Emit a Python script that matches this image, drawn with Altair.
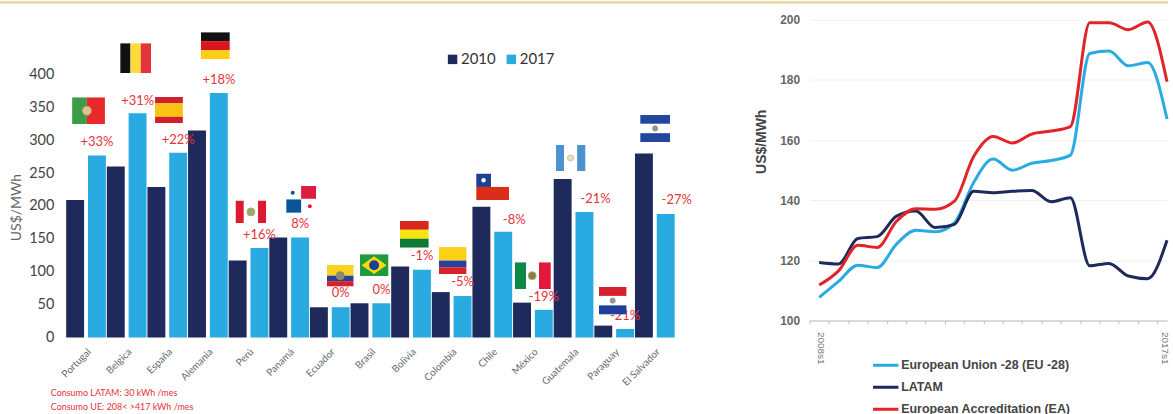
import base64
import altair as alt
import pandas as pd

# Electricity prices by country, 2010 vs 2017
countries = ["Portugal", "Belgica", "España", "Alemania", "Perú", "Panamá", "Ecuador", "Brasil",
             "Bolivia", "Colombia", "Chile", "México", "Guatemala", "Paraguay", "El Salvador"]
price_2010 = [209, 260, 229, 315, 117, 152, 46, 52, 108, 69, 199, 53, 241, 18, 280]
price_2017 = [277, 341, 281, 372, 136, 152, 46, 52, 103, 63, 161, 42, 191, 13, 188]
change_labels = ["+33%", "+31%", "+22%", "+18%", "+16%", "8%", "0%", "0%",
                 "-1%", "-5%", "-8%", "-19%", "-21%", "-21%", "-27%"]
label_heights = [297, 360, 300, 392, 156, 172, 67, 72, 124, 84, 179, 62, 211, 33, 209]
flag_heights = [345, 425, 346, 444, 191, 210, 94, 110, 157, 117, 229, 94, 273, 56, 318]
notes = ["Consumo LATAM: 30 kWh /mes", "Consumo UE: 208< >417 kWh /mes"]

# Semester price series
semesters = [f"{y}s{s}" for y in range(2008, 2018) for s in (1, 2)][:19]
eu28 = [107.7, 113, 118.4, 117.6, 125.4, 130, 129.5, 132.5, 146, 153.7,
        150, 152.3, 153.2, 155, 188.8, 189.6, 184.7, 185.8, 167]
latam = [119.3, 118.8, 127.3, 127.9, 134.7, 136.4, 130.9, 132, 143, 142.5,
         143, 143.2, 139.5, 140.8, 118.2, 119, 114.8, 113.9, 126.7]
ea = [111.8, 116.5, 125, 124.3, 133, 137.2, 137, 139.7, 154.6, 161.2,
      159, 162, 163, 164.5, 199, 199, 196.7, 199.3, 179.4]
series_names = ["European Union -28 (EU -28)", "LATAM", "European Accreditation (EA)"]

NAVY = "#1f2a5c"
SKY = "#29abe2"
RED = "#e6323c"


def stripes_h(w, h, bands):
    """Horizontal stripes: bands is a list of (fraction, colour)."""
    out, y = "", 0
    for frac, col in bands:
        out += f'<rect x="0" y="{y}" width="{w}" height="{frac * h}" fill="{col}"/>'
        y += frac * h
    return out


def stripes_v(w, h, bands):
    """Vertical stripes: bands is a list of (fraction, colour)."""
    out, x = "", 0
    for frac, col in bands:
        out += f'<rect x="{x}" y="0" width="{frac * w}" height="{h}" fill="{col}"/>'
        x += frac * w
    return out


def seal(cx, cy, r, col, ring="#b9a66a"):
    return f'<circle cx="{cx}" cy="{cy}" r="{r}" fill="{col}" stroke="{ring}" stroke-width="1"/>'


def flag_svg(name, w, h):
    cx, cy = w / 2, h / 2
    body = {
        "Portugal": stripes_v(w, h, [(0.45, "#3b9b48"), (0.55, "#e8282c")]) + seal(w * 0.45, cy, 4.5, "#d8c49a"),
        "Belgica": stripes_v(w, h, [(1 / 3, "#111111"), (1 / 3, "#fbdc3c"), (1 / 3, "#e5333b")]),
        "España": stripes_h(w, h, [(0.25, "#cf2129"), (0.5, "#f8c312"), (0.25, "#cf2129")]),
        "Alemania": stripes_h(w, h, [(1 / 3, "#111111"), (1 / 3, "#d8161c"), (1 / 3, "#fdcf14")]),
        "Perú": stripes_v(w, h, [(0.27, "#dc1c2e"), (0.46, "#ffffff"), (0.27, "#dc1c2e")]) + seal(cx, cy, 4, "#8fae6a"),
        "Panamá": (f'<rect x="{cx}" y="0" width="{cx}" height="{cy * 0.95}" fill="#dc1c40"/>'
                   f'<rect x="0" y="{cy}" width="{cx}" height="{cy}" fill="#0a5499"/>'
                   f'<circle cx="{w * 0.22}" cy="{h * 0.25}" r="2" fill="#0a5499"/>'
                   f'<circle cx="{w * 0.79}" cy="{h * 0.75}" r="2" fill="#dc1c40"/>'),
        "Ecuador": stripes_h(w, h, [(0.5, "#f8d21c"), (0.25, "#26419a"), (0.25, "#d8202c")]) + seal(cx, cy, 4, "#8a8a70", "#8a8a70"),
        "Brasil": (f'<rect width="{w}" height="{h}" fill="#1f9a3c"/>'
                   f'<polygon points="2,{cy} {cx},2 {w - 2},{cy} {cx},{h - 2}" fill="#f6d90f"/>'
                   f'<circle cx="{cx}" cy="{cy}" r="5" fill="#1c3f94"/>'),
        "Bolivia": stripes_h(w, h, [(1 / 3, "#d8281c"), (1 / 3, "#f7e411"), (1 / 3, "#0f7a34")]),
        "Colombia": stripes_h(w, h, [(0.5, "#fcd116"), (0.25, "#26419a"), (0.25, "#d8202c")]),
        "Chile": (f'<rect y="{cy}" width="{w}" height="{cy}" fill="#dc2d18"/>'
                  f'<rect width="{w * 0.45}" height="{cy}" fill="#1f3f94"/>'
                  f'<circle cx="{w * 0.225}" cy="{cy / 2}" r="2.2" fill="#ffffff"/>'),
        "México": stripes_v(w, h, [(0.31, "#0a8a46"), (0.36, "#ffffff"), (0.33, "#e6173c")]) + seal(w * 0.48, cy, 4, "#8a7a3c", "#a8b090"),
        "Guatemala": stripes_v(w, h, [(0.28, "#4a93cf"), (0.44, "#ffffff"), (0.28, "#4a93cf")]) + seal(cx, cy, 3, "#e8e2c0", "#c8c09a"),
        "Paraguay": (f'<rect width="{w}" height="{h * 0.33}" fill="#d8202c"/>'
                     f'<rect y="{h * 0.67}" width="{w}" height="{h * 0.33}" fill="#1f3f9a"/>')
                    + seal(cx, cy, 2.5, "#9a9a9a", "#8a8a8a"),
        "El Salvador": (f'<rect width="{w}" height="{h * 0.33}" fill="#23479e"/>'
                        f'<rect y="{h * 0.67}" width="{w}" height="{h * 0.33}" fill="#23479e"/>')
                       + seal(cx, cy, 2.5, "#9a9a8a", "#8a8a7a"),
    }[name]
    svg = f'<svg xmlns="http://www.w3.org/2000/svg" width="{w}" height="{h}" viewBox="0 0 {w} {h}">{body}</svg>'
    return "data:image/svg+xml;base64," + base64.b64encode(svg.encode()).decode()


# Flag drawing sizes and sideways nudges, in pixels
flag_style = {
    "Portugal": (33, 27, 2.5), "Belgica": (31, 30, 9), "España": (28, 27, 1.7), "Alemania": (29, 27, 7.5),
    "Perú": (31, 23, 2.4), "Panamá": (30, 27, 12), "Ecuador": (27, 22, 10.5), "Brasil": (29, 22, 3.7),
    "Bolivia": (29, 27, 3.3), "Colombia": (28, 27, 1), "Chile": (33, 27, 0.3), "México": (36, 27, 0),
    "Guatemala": (30, 27, -3), "Paraguay": (28, 28, -1.5), "El Salvador": (30, 28, 0.3),
}

bars_df = pd.DataFrame({
    "country": countries * 2,
    "year": ["2010"] * len(countries) + ["2017"] * len(countries),
    "price": price_2010 + price_2017,
})
labels_df = pd.DataFrame({"country": countries, "label": change_labels, "height": label_heights})
wide_labels = ["Chile", "Guatemala", "El Salvador"]

x_axis = alt.Axis(labelAngle=-45, labelAlign="right", labelBaseline="top", labelFontSize=10,
                  labelColor="#666b72", labelFont="Lato", labelPadding=9, labelOverlap=False,
                  domain=False, ticks=False, grid=False)
x_enc = alt.X("country:N", sort=countries, title=None,
              scale=alt.Scale(paddingInner=0.034, paddingOuter=0.017), axis=x_axis)
y_scale = alt.Scale(domain=[0, 483.3], nice=False)
y_axis = alt.Axis(values=[0, 50, 100, 150, 200, 250, 300, 350, 400], grid=False, domain=False, ticks=False,
                  labelFontSize=14.5, labelColor="#444444", labelFont="Lato", labelPadding=12, labelOverlap=False,
                  titleFontSize=14, titleColor="#666666", titleFont="Lato", titleFontWeight="normal",
                  titleX=-42, titleY=188)

bars = alt.Chart(bars_df).mark_bar(size=18).encode(
    x=x_enc,
    xOffset=alt.XOffset("year:N", sort=["2010", "2017"], scale=alt.Scale(paddingInner=0.2)),
    y=alt.Y("price:Q", scale=y_scale, title="US$/MWh", axis=y_axis),
    color=alt.Color(
        "year:N", title=None,
        scale=alt.Scale(domain=["2010", "2017"], range=[NAVY, SKY]),
        legend=alt.Legend(orient="none", legendX=381, legendY=32, direction="horizontal", symbolType="square",
                          symbolSize=90, symbolStrokeWidth=0, labelFontSize=15, labelFont="Lato",
                          labelColor="#333333", columnPadding=8, labelOffset=1),
    ),
)

text_y = alt.Y("height:Q", scale=y_scale, title="US$/MWh", axis=y_axis)
regular_labels = alt.Chart(labels_df[~labels_df.country.isin(wide_labels)]).mark_text(
    dx=11, fontSize=13, font="Lato", color=RED
).encode(x=x_enc, y=text_y, text="label:N")
shifted_labels = alt.Chart(labels_df[labels_df.country.isin(wide_labels)]).mark_text(
    dx=22, fontSize=13, font="Lato", color=RED
).encode(x=x_enc, y=text_y, text="label:N")

flag_layers = []
for name, top in zip(countries, flag_heights):
    w, h, nudge = flag_style[name]
    flag_layers.append(
        alt.Chart(pd.DataFrame({"country": [name], "height": [top], "img": [flag_svg(name, w, h)]}))
        .mark_image(width=w, height=h, align="center", baseline="middle", xOffset=nudge)
        .encode(x=x_enc, y=text_y, url="img:N")
    )

note_layers = [
    alt.Chart(pd.DataFrame({"t": [line]})).mark_text(
        align="left", baseline="middle", fontSize=9, font="Lato", color="#e2323a"
    ).encode(x=alt.value(-15), y=alt.value(pos), text="t:N")
    for line, pos in zip(notes, (375, 388.7))
]

# Thin ochre band across the head of the page
top_band = alt.Chart(pd.DataFrame({"a": [0]})).mark_rect(color="#e8d9a8").encode(
    x=alt.value(-66), x2=alt.value(1107), y=alt.value(-19), y2=alt.value(-16)
)

left = alt.layer(top_band, bars, regular_labels, shifted_labels, *flag_layers, *note_layers).properties(
    width=612, height=319
)

lines_df = pd.DataFrame({
    "semester": semesters * 3,
    "series": sum(([n] * len(semesters) for n in series_names), []),
    "price": eu28 + latam + ea,
})

right = alt.Chart(lines_df).mark_line(strokeWidth=3, interpolate="monotone").encode(
    x=alt.X(
        "semester:O", sort=semesters, title=None,
        scale=alt.Scale(type="point", padding=0.25, align=1),
        axis=alt.Axis(
            labelAngle=90, labelAlign="left", labelBaseline="middle", labelFontSize=10, labelColor="#777777",
            labelFont="Liberation Sans", labelPadding=8, tickOffset=-9.7, tickSize=3, tickColor="#bbbbbb",
            domainColor="#bbbbbb", grid=False, labelOverlap=False,
            labelOffset={"condition": {"test": "datum.value == '2017s1'", "value": 7}, "value": 11},
            labelExpr="(datum.value == '2008s1' || datum.value == '2017s1') ? datum.label : ''",
        ),
    ),
    y=alt.Y(
        "price:Q", scale=alt.Scale(domain=[100, 200], nice=False), title="US$/MWh",
        axis=alt.Axis(values=[100, 120, 140, 160, 180, 200], domain=False, ticks=False, gridColor="#f0f0f0",
                      labelFontSize=12, labelColor="#666666", labelFont="Liberation Sans", labelPadding=10,
                      labelFontWeight="bold", titleFontSize=14, titleColor="#444444",
                      titleFont="Liberation Sans", titleFontWeight="bold", titleX=-41, titleY=122),
    ),
    color=alt.Color(
        "series:N", title=None,
        scale=alt.Scale(domain=series_names, range=[SKY, NAVY, "#e2232a"]),
        sort=series_names,
        legend=alt.Legend(orient="none", legendX=62, legendY=341, direction="vertical", symbolType="stroke",
                          symbolSize=650, symbolStrokeWidth=3, labelFontSize=12.5, labelFont="Liberation Sans",
                          labelFontWeight="bold", labelColor="#444444", clipHeight=12, rowPadding=9, labelOffset=1,
                          labelLimit=300),
    ),
).properties(width=359, height=302)

chart = alt.hconcat(left, right, spacing=135, bounds="flush").resolve_scale(
    color="independent", x="independent", y="independent"
).properties(
    padding=0, background="white"
).configure_view(stroke=None)

chart.save("out.html", embed_options={"renderer": "svg", "actions": False})
